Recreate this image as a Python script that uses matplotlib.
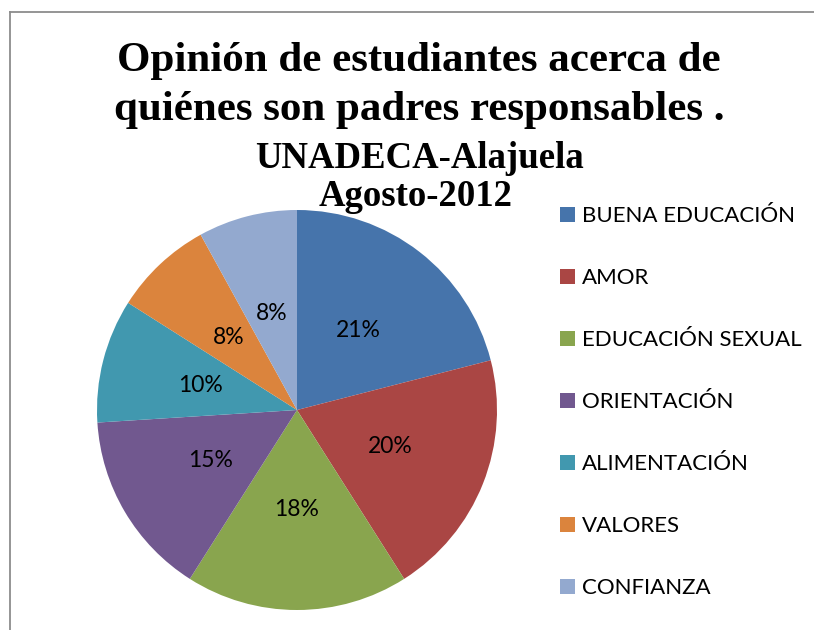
import matplotlib
matplotlib.use("Agg")
import matplotlib.pyplot as plt
from matplotlib.lines import Line2D

# data
categorias = ["BUENA EDUCACIÓN", "AMOR", "EDUCACIÓN SEXUAL", "ORIENTACIÓN",
              "ALIMENTACIÓN", "VALORES", "CONFIANZA"]
porcentajes = [21, 20, 18, 15, 10, 8, 8]
colores = ["#4674AB", "#AA4644", "#89A54E", "#71588F", "#4198AF", "#DB843D", "#93A9CF"]

W, H = 814, 630
fig = plt.figure(figsize=(W / 100, H / 100), dpi=100)

# chart border (only left and top visible in the crop)
fig.add_artist(Line2D([9.5 / W, 9.5 / W], [0, 1 - 11.5 / H], color="#8c8c8c", lw=1.3))
fig.add_artist(Line2D([9.5 / W, 1], [1 - 11.5 / H, 1 - 11.5 / H], color="#8c8c8c", lw=1.3))

# pie centred at (297, 410) px with radius 200 px
cx, cy, r = 297, 410, 200
ax = fig.add_axes([(cx - r) / W, (H - cy - r) / H, 2 * r / W, 2 * r / H])
wedges, texts, autotexts = ax.pie(porcentajes, colors=colores, startangle=90,
                                  counterclock=False, autopct="%1.0f%%",
                                  pctdistance=0.5,
                                  textprops=dict(fontsize=16.5, family="Lato", color="black"))
ax.set_xlim(-1, 1)
ax.set_ylim(-1, 1)

# title
tfont = dict(family="Liberation Serif", weight="bold", ha="center", va="center")
fig.text(419 / W, 1 - 61 / H, "Opinión de estudiantes acerca de", fontsize=31, **tfont)
fig.text(419 / W, 1 - 110 / H, "quiénes son padres responsables .", fontsize=31, **tfont)
fig.text(419 / W, 1 - 158 / H, "UNADECA-Alajuela", fontsize=26.5, **tfont)
fig.text(416 / W, 1 - 196 / H, "Agosto-2012", fontsize=26.5, **tfont)

leg = fig.legend(wedges, categorias, loc="upper left",
                 bbox_to_anchor=(540 / W, 1 - 186 / H),
                 frameon=False, handlelength=0.68, handleheight=0.68,
                 handletextpad=0.32, labelspacing=1.89,
                 prop=dict(family="Lato", size=16))

fig.savefig("out.png", dpi=100)
